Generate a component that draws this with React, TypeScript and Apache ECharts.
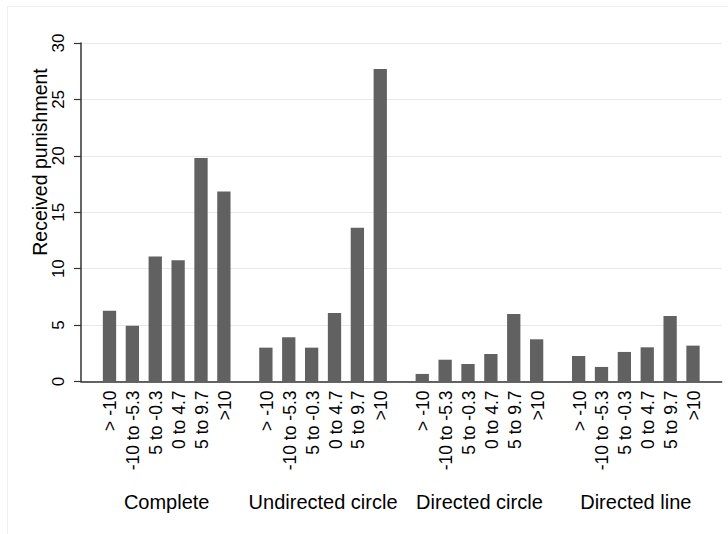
import React, { useEffect, useRef } from "react";
import * as echarts from "echarts";

const networks = ["Complete", "Undirected circle", "Directed circle", "Directed line"];
const bins = ["> -10", "-10 to -5.3", "5 to -0.3", "0 to 4.7", "5 to 9.7", ">10"];
// values per bin, across networks
const binGt10neg = [6.28, 3.0, 0.67, 2.26];
const binNeg10to53 = [4.95, 3.92, 1.93, 1.29];
const binNeg5to03 = [11.07, 3.0, 1.55, 2.62];
const bin0to47 = [10.75, 6.08, 2.44, 3.03];
const bin5to97 = [19.8, 13.62, 5.99, 5.81];
const binGt10 = [16.84, 27.7, 3.74, 3.18];
const seriesValues = [binGt10neg, binNeg10to53, binNeg5to03, bin0to47, bin5to97, binGt10];
const yTicks = [0, 5, 10, 15, 20, 25, 30];
const yTitle = "Received punishment";

const FONT = "Liberation Sans, Arial, Helvetica, sans-serif";

export default function App() {
  const ref = useRef<HTMLDivElement>(null);
  useEffect(() => {
    if (!ref.current) return;
    const chart = echarts.init(ref.current, null, { renderer: "svg" });
    const yMin = yTicks[0];
    const yMax = yTicks[yTicks.length - 1];
    const step = yTicks[1] - yTicks[0];
    chart.setOption({
      animation: false,
      backgroundColor: "#fff",
      textStyle: { fontFamily: FONT },
      grid: [
        { left: 81, right: 6.3, top: 43, bottom: 152.5, containLabel: false },
        { left: 88.5, right: 14, top: 43, bottom: 152.5, containLabel: false },
      ],
      xAxis: [
        {
          type: "value",
          gridIndex: 0,
          min: 0,
          max: 1,
          axisLine: { show: true, onZero: false, lineStyle: { color: "#333", width: 1.5 } },
          axisTick: { show: false },
          axisLabel: { show: false },
          splitLine: { show: false },
        },
        {
          type: "category",
          gridIndex: 1,
          data: networks,
          axisLine: { show: false },
          axisTick: { show: false },
          axisLabel: { color: "#000", fontSize: 20, fontFamily: FONT, margin: 110, interval: 0 },
          splitLine: { show: false },
        },
      ],
      yAxis: [
        {
          type: "value",
          gridIndex: 0,
          min: yMin,
          max: yMax,
          interval: step,
          axisLine: { show: true, lineStyle: { color: "#333", width: 1.5 } },
          axisTick: { show: true, length: 7, lineStyle: { color: "#333", width: 1.2 } },
          axisLabel: { color: "#000", fontSize: 17, fontFamily: FONT, rotate: 90, margin: 14 },
          splitLine: { show: true, lineStyle: { color: "#e8e8e8", width: 1.2 } },
        },
        {
          type: "value",
          gridIndex: 1,
          min: yMin,
          max: yMax,
          interval: step,
          show: false,
          splitLine: { show: false },
        },
      ],
      series: bins.map((name, i) => ({
        type: "bar",
        name,
        xAxisIndex: 1,
        yAxisIndex: 1,
        data: seriesValues[i],
        barWidth: 13.3,
        barGap: "72%",
        itemStyle: { color: "#616161" },
        label: {
          show: true,
          formatter: () => name,
          position: ["50%", "100%"],
          offset: [-9, 1],
          rotate: 90,
          align: "right",
          verticalAlign: "middle",
          color: "#000",
          fontSize: 17.5,
          fontFamily: FONT,
        },
      })),
      graphic: [
        {
          type: "line",
          shape: { x1: 7.5, y1: 6, x2: 7.5, y2: 534 },
          style: { stroke: "#eeeeee", lineWidth: 1 },
          silent: true,
        },
        {
          type: "line",
          shape: { x1: 7.5, y1: 6.5, x2: 728, y2: 6.5 },
          style: { stroke: "#eeeeee", lineWidth: 1 },
          silent: true,
        },
        {
          type: "text",
          x: 40,
          y: 162,
          rotation: Math.PI / 2,
          style: {
            text: yTitle,
            fill: "#000",
            fontSize: 19.5,
            fontFamily: FONT,
            align: "center",
            verticalAlign: "middle",
          },
        },
      ],
    });
    return () => chart.dispose();
  }, []);
  return <div ref={ref} style={{ width: 728, height: 534, position: "absolute", left: 0, top: 0 }} />;
}
